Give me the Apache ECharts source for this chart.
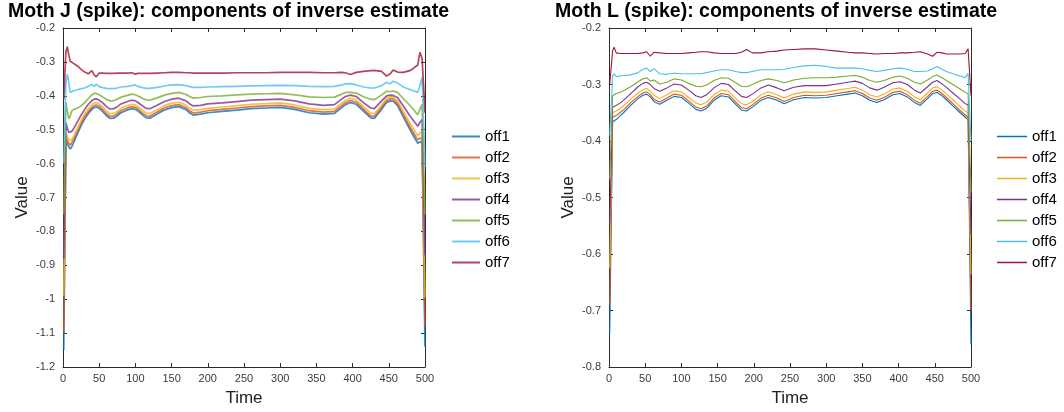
<!DOCTYPE html>
<html>
<head>
<meta charset="utf-8">
<title>Moth J / Moth L (spike): components of inverse estimate</title>
<script src="https://cdn.jsdelivr.net/npm/echarts@6/dist/echarts.min.js"></script>
<style>
  html, body { margin: 0; padding: 0; background: #ffffff; }
  #chart { width: 1064px; height: 412px; }
</style>
</head>
<body>
<div id="chart"></div>
<script>
// ---- series names and colours ----
const seriesNames = ['off1', 'off2', 'off3', 'off4', 'off5', 'off6', 'off7'];
const seriesColors = ['#0072BD', '#D95319', '#EDB120', '#7E2F8E', '#77AC30', '#4DBEEE', '#A2142F'];

// ---- axis ranges ----
const timeRange = [0, 500, 50];
const valueRangeJ = [-1.2, -0.2, 0.1];
const valueRangeL = [-0.8, -0.2, 0.1];

// ---- Moth J ----
const timeJ = [1, 4, 6, 8, 10, 12, 15, 20, 25, 30, 35, 40, 43, 46, 50, 55, 60, 65, 70, 75,
  80, 90, 95, 100, 103, 110, 115, 120, 130, 140, 150, 160, 170, 175, 180, 190, 200, 220, 240, 260,
  280, 300, 320, 340, 360, 375, 385, 390, 397, 405, 415, 425, 430, 440, 447, 452, 456, 462, 470, 480,
  490, 493, 496, 500];

const j_off1 = [-1.15, -0.53, -0.542, -0.55, -0.557, -0.551, -0.537, -0.512, -0.488, -0.468, -0.452, -0.44, -0.435, -0.433, -0.437, -0.447, -0.459, -0.467, -0.466, -0.459,
  -0.45, -0.441, -0.438, -0.44, -0.444, -0.457, -0.465, -0.466, -0.454, -0.442, -0.435, -0.432, -0.441, -0.451, -0.457, -0.454, -0.45, -0.446, -0.442, -0.438,
  -0.436, -0.434, -0.44, -0.45, -0.454, -0.452, -0.435, -0.426, -0.42, -0.425, -0.445, -0.465, -0.467, -0.44, -0.42, -0.415, -0.416, -0.428, -0.462, -0.503,
  -0.54, -0.535, -0.54, -1.14];
const j_off2 = [-1.10, -0.52, -0.532, -0.54, -0.546, -0.541, -0.528, -0.504, -0.481, -0.461, -0.446, -0.434, -0.429, -0.427, -0.431, -0.441, -0.453, -0.461, -0.46, -0.453,
  -0.444, -0.435, -0.432, -0.434, -0.438, -0.451, -0.459, -0.46, -0.448, -0.436, -0.429, -0.426, -0.435, -0.445, -0.451, -0.448, -0.444, -0.44, -0.436, -0.432,
  -0.43, -0.428, -0.434, -0.444, -0.448, -0.446, -0.429, -0.42, -0.414, -0.419, -0.439, -0.459, -0.461, -0.434, -0.414, -0.409, -0.41, -0.422, -0.455, -0.495,
  -0.53, -0.525, -0.527, -1.08];
const j_off3 = [-0.99, -0.51, -0.522, -0.53, -0.535, -0.53, -0.518, -0.495, -0.473, -0.453, -0.438, -0.426, -0.421, -0.42, -0.424, -0.433, -0.445, -0.453, -0.452, -0.446,
  -0.437, -0.428, -0.425, -0.427, -0.431, -0.443, -0.451, -0.452, -0.441, -0.429, -0.422, -0.419, -0.428, -0.437, -0.443, -0.441, -0.437, -0.433, -0.429, -0.425,
  -0.423, -0.421, -0.427, -0.437, -0.441, -0.439, -0.422, -0.413, -0.407, -0.412, -0.432, -0.451, -0.453, -0.427, -0.407, -0.403, -0.404, -0.415, -0.446, -0.484,
  -0.518, -0.51, -0.505, -0.995];
const j_off4 = [-0.88, -0.48, -0.495, -0.508, -0.513, -0.505, -0.496, -0.476, -0.457, -0.44, -0.425, -0.414, -0.41, -0.409, -0.413, -0.421, -0.432, -0.439, -0.438, -0.432,
  -0.424, -0.416, -0.413, -0.415, -0.419, -0.43, -0.437, -0.438, -0.428, -0.417, -0.41, -0.407, -0.415, -0.424, -0.43, -0.428, -0.424, -0.421, -0.417, -0.413,
  -0.411, -0.41, -0.415, -0.424, -0.428, -0.426, -0.41, -0.402, -0.398, -0.402, -0.42, -0.436, -0.438, -0.415, -0.4, -0.398, -0.399, -0.405, -0.43, -0.462,
  -0.49, -0.478, -0.47, -0.87];
const j_off5 = [-0.75, -0.42, -0.445, -0.468, -0.46, -0.445, -0.44, -0.436, -0.43, -0.42, -0.408, -0.397, -0.393, -0.393, -0.397, -0.404, -0.411, -0.415, -0.414, -0.41,
  -0.404, -0.398, -0.395, -0.397, -0.4, -0.408, -0.412, -0.413, -0.406, -0.398, -0.393, -0.39, -0.396, -0.402, -0.407, -0.405, -0.402, -0.4, -0.397, -0.395,
  -0.394, -0.393, -0.397, -0.403, -0.405, -0.404, -0.395, -0.39, -0.39, -0.392, -0.403, -0.41, -0.411, -0.398, -0.386, -0.388, -0.386, -0.39, -0.408, -0.43,
  -0.456, -0.44, -0.425, -0.75];
const j_off6 = [-0.60, -0.36, -0.337, -0.36, -0.39, -0.392, -0.385, -0.382, -0.379, -0.377, -0.372, -0.366, -0.372, -0.366, -0.373, -0.376, -0.378, -0.379, -0.379, -0.377,
  -0.374, -0.372, -0.37, -0.368, -0.372, -0.376, -0.378, -0.378, -0.375, -0.371, -0.368, -0.367, -0.37, -0.373, -0.375, -0.375, -0.374, -0.373, -0.372, -0.371,
  -0.37, -0.369, -0.37, -0.372, -0.373, -0.372, -0.368, -0.365, -0.364, -0.368, -0.374, -0.377, -0.377, -0.37, -0.36, -0.365, -0.357, -0.362, -0.374, -0.382,
  -0.39, -0.37, -0.346, -0.61];
const j_off7 = [-0.41, -0.27, -0.255, -0.28, -0.298, -0.302, -0.305, -0.312, -0.322, -0.33, -0.335, -0.326, -0.338, -0.344, -0.333, -0.333, -0.334, -0.334, -0.334, -0.333,
  -0.333, -0.333, -0.332, -0.336, -0.334, -0.334, -0.334, -0.334, -0.333, -0.332, -0.331, -0.331, -0.332, -0.332, -0.333, -0.333, -0.333, -0.333, -0.332, -0.332,
  -0.332, -0.331, -0.331, -0.331, -0.332, -0.332, -0.331, -0.332, -0.337, -0.331, -0.328, -0.326, -0.325, -0.328, -0.342, -0.335, -0.324, -0.33, -0.331, -0.325,
  -0.309, -0.272, -0.29, -0.45];

// ---- Moth L ----
const timeL = [1, 5, 7, 10, 15, 20, 30, 40, 47, 52, 57, 62, 70, 80, 90, 100, 110, 120, 127, 135,
  145, 155, 165, 175, 183, 190, 198, 210, 220, 232, 242, 255, 270, 285, 300, 315, 330, 340, 350, 360,
  370, 380, 392, 402, 412, 422, 430, 440, 447, 453, 460, 466, 475, 485, 492, 496, 500];

const l_off1 = [-0.742, -0.366, -0.365, -0.362, -0.356, -0.35, -0.337, -0.325, -0.319, -0.317, -0.322, -0.33, -0.335, -0.328, -0.321, -0.323, -0.333, -0.344, -0.347, -0.342,
  -0.328, -0.32, -0.322, -0.335, -0.345, -0.347, -0.34, -0.328, -0.323, -0.328, -0.334, -0.327, -0.323, -0.324, -0.323, -0.32, -0.317, -0.315, -0.32, -0.328,
  -0.332, -0.327, -0.318, -0.316, -0.322, -0.332, -0.337, -0.325, -0.316, -0.314, -0.32, -0.327, -0.338, -0.35, -0.358, -0.362, -0.76];
const l_off2 = [-0.689, -0.358, -0.357, -0.355, -0.35, -0.345, -0.332, -0.321, -0.315, -0.313, -0.318, -0.326, -0.331, -0.324, -0.317, -0.319, -0.329, -0.34, -0.343, -0.338,
  -0.324, -0.316, -0.318, -0.331, -0.341, -0.343, -0.336, -0.324, -0.319, -0.324, -0.33, -0.323, -0.319, -0.32, -0.319, -0.316, -0.313, -0.311, -0.316, -0.324,
  -0.328, -0.323, -0.314, -0.312, -0.318, -0.328, -0.333, -0.321, -0.312, -0.31, -0.316, -0.323, -0.334, -0.346, -0.354, -0.358, -0.70];
const l_off3 = [-0.625, -0.35, -0.349, -0.347, -0.343, -0.338, -0.326, -0.315, -0.309, -0.307, -0.312, -0.319, -0.325, -0.318, -0.311, -0.313, -0.323, -0.333, -0.336, -0.331,
  -0.318, -0.31, -0.312, -0.325, -0.334, -0.336, -0.33, -0.318, -0.313, -0.318, -0.324, -0.317, -0.313, -0.314, -0.313, -0.31, -0.307, -0.305, -0.31, -0.318,
  -0.322, -0.317, -0.308, -0.306, -0.312, -0.322, -0.327, -0.315, -0.306, -0.304, -0.31, -0.317, -0.327, -0.339, -0.347, -0.35, -0.636];
const l_off4 = [-0.549, -0.34, -0.339, -0.337, -0.333, -0.328, -0.316, -0.304, -0.298, -0.296, -0.3, -0.307, -0.312, -0.306, -0.299, -0.301, -0.31, -0.32, -0.323, -0.318,
  -0.306, -0.298, -0.3, -0.312, -0.321, -0.323, -0.317, -0.306, -0.301, -0.306, -0.311, -0.305, -0.302, -0.302, -0.302, -0.299, -0.296, -0.294, -0.298, -0.306,
  -0.31, -0.305, -0.297, -0.295, -0.3, -0.31, -0.315, -0.304, -0.296, -0.293, -0.299, -0.305, -0.315, -0.326, -0.334, -0.336, -0.566];
const l_off5 = [-0.467, -0.32, -0.318, -0.316, -0.314, -0.311, -0.304, -0.295, -0.29, -0.288, -0.294, -0.292, -0.299, -0.296, -0.29, -0.292, -0.298, -0.303, -0.304, -0.301,
  -0.293, -0.288, -0.289, -0.297, -0.303, -0.304, -0.3, -0.293, -0.29, -0.293, -0.297, -0.292, -0.289, -0.288, -0.288, -0.287, -0.285, -0.284, -0.287, -0.293,
  -0.296, -0.293, -0.287, -0.285, -0.289, -0.296, -0.299, -0.292, -0.286, -0.283, -0.288, -0.293, -0.3, -0.308, -0.314, -0.316, -0.49];
const l_off6 = [-0.39, -0.285, -0.281, -0.286, -0.285, -0.284, -0.283, -0.279, -0.273, -0.271, -0.277, -0.272, -0.281, -0.282, -0.28, -0.281, -0.281, -0.281, -0.281, -0.279,
  -0.276, -0.274, -0.274, -0.277, -0.279, -0.279, -0.277, -0.274, -0.274, -0.274, -0.273, -0.27, -0.267, -0.266, -0.268, -0.271, -0.271, -0.271, -0.272, -0.275,
  -0.277, -0.275, -0.272, -0.271, -0.273, -0.277, -0.277, -0.276, -0.272, -0.268, -0.273, -0.277, -0.281, -0.285, -0.288, -0.28, -0.40];
const l_off7 = [-0.30, -0.24, -0.234, -0.244, -0.245, -0.245, -0.245, -0.245, -0.244, -0.242, -0.25, -0.243, -0.244, -0.245, -0.245, -0.245, -0.244, -0.243, -0.242, -0.242,
  -0.244, -0.245, -0.245, -0.245, -0.243, -0.238, -0.244, -0.244, -0.242, -0.241, -0.239, -0.238, -0.237, -0.237, -0.239, -0.241, -0.243, -0.244, -0.244, -0.245,
  -0.246, -0.245, -0.245, -0.244, -0.244, -0.243, -0.242, -0.246, -0.25, -0.243, -0.244, -0.246, -0.246, -0.246, -0.245, -0.237, -0.32];

const mothJ = [j_off1, j_off2, j_off3, j_off4, j_off5, j_off6, j_off7];
const mothL = [l_off1, l_off2, l_off3, l_off4, l_off5, l_off6, l_off7];

// ---- styling shared by both panels ----
const FONT = 'Liberation Sans, Arial, Helvetica, sans-serif';
const AXIS_COLOR = '#2b2b2b';
const LABEL_COLOR = '#3a3a3a';

const panels = [
  { title: 'Moth J (spike): components of inverse estimate', titleLeft: 8,
    grid: { left: 63, top: 28, width: 362, height: 342 },
    legendLeft: 447, range: valueRangeJ, times: timeJ, rows: mothJ,
    lineWidth: 1.7, opacity: 0.8, legendIconWidth: 28, legendIconHeight: 2 },
  { title: 'Moth L (spike): components of inverse estimate', titleLeft: 555,
    grid: { left: 609, top: 28, width: 362, height: 342 },
    legendLeft: 992, range: valueRangeL, times: timeL, rows: mothL,
    lineWidth: 1.1, opacity: 1, legendIconWidth: 30, legendIconHeight: 1.5 }
];

const option = {
  animation: false,
  backgroundColor: '#ffffff',
  textStyle: { fontFamily: FONT },
  title: [], grid: [], xAxis: [], yAxis: [], legend: [], series: []
};

function boxAxis(extra) {
  return Object.assign({
    axisLine: { show: true, onZero: false, lineStyle: { color: AXIS_COLOR, width: 1 } },
    axisTick: { show: true, inside: true, length: 4, lineStyle: { color: AXIS_COLOR } },
    splitLine: { show: false },
    axisLabel: { show: false }
  }, extra);
}

panels.forEach((p, gi) => {
  option.title.push({
    text: p.title, left: p.titleLeft, top: 2, padding: 0,
    textStyle: { fontFamily: FONT, fontSize: 19.5, fontWeight: 'bold', color: '#000000' }
  });
  option.grid.push(p.grid);

  const xBase = { type: 'value', gridIndex: gi, min: timeRange[0], max: timeRange[1], interval: timeRange[2] };
  const yBase = { type: 'value', gridIndex: gi, min: p.range[0], max: p.range[1], interval: p.range[2] };

  option.xAxis.push(boxAxis(Object.assign({}, xBase, {
    position: 'bottom',
    name: 'Time', nameLocation: 'middle', nameGap: 23,
    nameTextStyle: { fontFamily: FONT, fontSize: 17, color: '#222222' },
    axisLabel: { show: true, fontSize: 11, color: LABEL_COLOR, margin: 6, fontFamily: FONT }
  })));
  option.xAxis.push(boxAxis(Object.assign({}, xBase, { position: 'top' })));

  option.yAxis.push(boxAxis(Object.assign({}, yBase, {
    position: 'left',
    name: 'Value', nameLocation: 'middle', nameGap: 32,
    nameTextStyle: { fontFamily: FONT, fontSize: 17, color: '#222222' },
    axisLabel: { show: true, fontSize: 11, color: LABEL_COLOR, margin: 8, fontFamily: FONT }
  })));
  option.yAxis.push(boxAxis(Object.assign({}, yBase, { position: 'right' })));

  option.legend.push({
    orient: 'vertical', left: p.legendLeft, top: 124,
    icon: 'rect',
    itemWidth: p.legendIconWidth, itemHeight: p.legendIconHeight, itemGap: 6,
    itemStyle: { opacity: p.opacity },
    data: seriesNames.map(n => n + '\u200b'.repeat(gi)),
    formatter: name => name.replace(/\u200b/g, ''),
    textStyle: { fontFamily: FONT, fontSize: 15, color: '#000000' }
  });

  seriesNames.forEach((name, si) => {
    option.series.push({
      name: name + '\u200b'.repeat(gi),
      type: 'line',
      xAxisIndex: gi * 2, yAxisIndex: gi * 2,
      showSymbol: false, symbol: 'none',
      clip: true,
      color: seriesColors[si],
      itemStyle: { color: seriesColors[si] },
      lineStyle: { width: p.lineWidth, color: seriesColors[si], opacity: p.opacity },
      emphasis: { disabled: true },
      data: p.times.map((t, i) => [t, p.rows[si][i]])
    });
  });
});

const chart = echarts.init(document.getElementById('chart'), null, { renderer: 'canvas' });
chart.setOption(option);
</script>
</body>
</html>
